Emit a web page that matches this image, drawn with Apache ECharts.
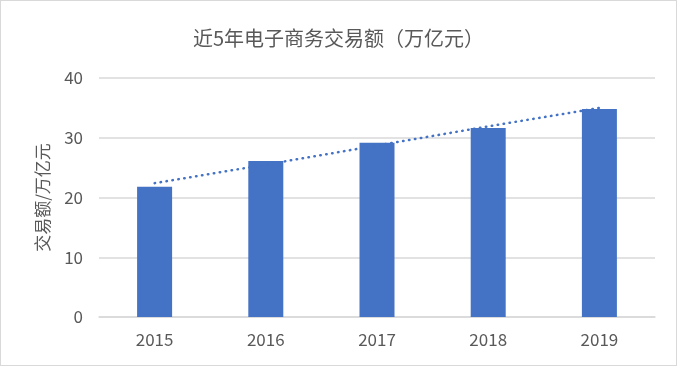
<!DOCTYPE html>
<html><head><meta charset="utf-8">
<script src="https://cdn.jsdelivr.net/npm/echarts@6/dist/echarts.min.js"></script>
<style>html,body{margin:0;padding:0;background:#fff}#c{width:677px;height:366px;box-sizing:border-box;border:1px solid #d9d9d9}</style>
</head><body><div id="c"></div>
<script>
var title = '近5年电子商务交易额（万亿元）';
var yName = '交易额/万亿元';
var categories = ['2015', '2016', '2017', '2018', '2019'];
var values = [21.79, 26.1, 29.16, 31.63, 34.81];
var trend = [22.4, 25.5, 28.7, 31.9, 35.0];
var yTicks = [0, 10, 20, 30, 40];

var chart = echarts.init(document.getElementById('c'), null, {renderer: 'canvas'});
var font = '"Noto Sans CJK SC",sans-serif';
chart.setOption({
  animation: false,
  title: {text: title, left: 'center', top: 22,
    textStyle: {color: '#595959', fontSize: 20, fontWeight: 'normal', fontFamily: font}},
  grid: {left: 98, right: 21, top: 77, bottom: 48},
  xAxis: {type: 'category', data: categories,
    axisLine: {lineStyle: {color: '#d9d9d9', width: 1.5}},
    axisTick: {show: false},
    axisLabel: {color: '#595959', fontSize: 17, margin: 14, fontFamily: font}},
  yAxis: {type: 'value', min: yTicks[0], max: yTicks[yTicks.length-1], interval: 10,
    name: yName, nameLocation: 'middle', nameGap: 48,
    nameTextStyle: {color: '#595959', fontSize: 17, fontFamily: font},
    axisLine: {show: false}, axisTick: {show: false},
    axisLabel: {color: '#595959', fontSize: 17, margin: 16, fontFamily: font},
    splitLine: {lineStyle: {color: '#d9d9d9', width: 1.5}}},
  series: [
    {type: 'bar', data: values, barWidth: 35, itemStyle: {color: '#4472C4'}},
    {type: 'line', data: trend, symbol: 'none', z: 5,
      lineStyle: {color: '#4472C4', width: 2.5, type: [0.5, 5.5], cap: 'round'}}
  ]
});
</script></body></html>
